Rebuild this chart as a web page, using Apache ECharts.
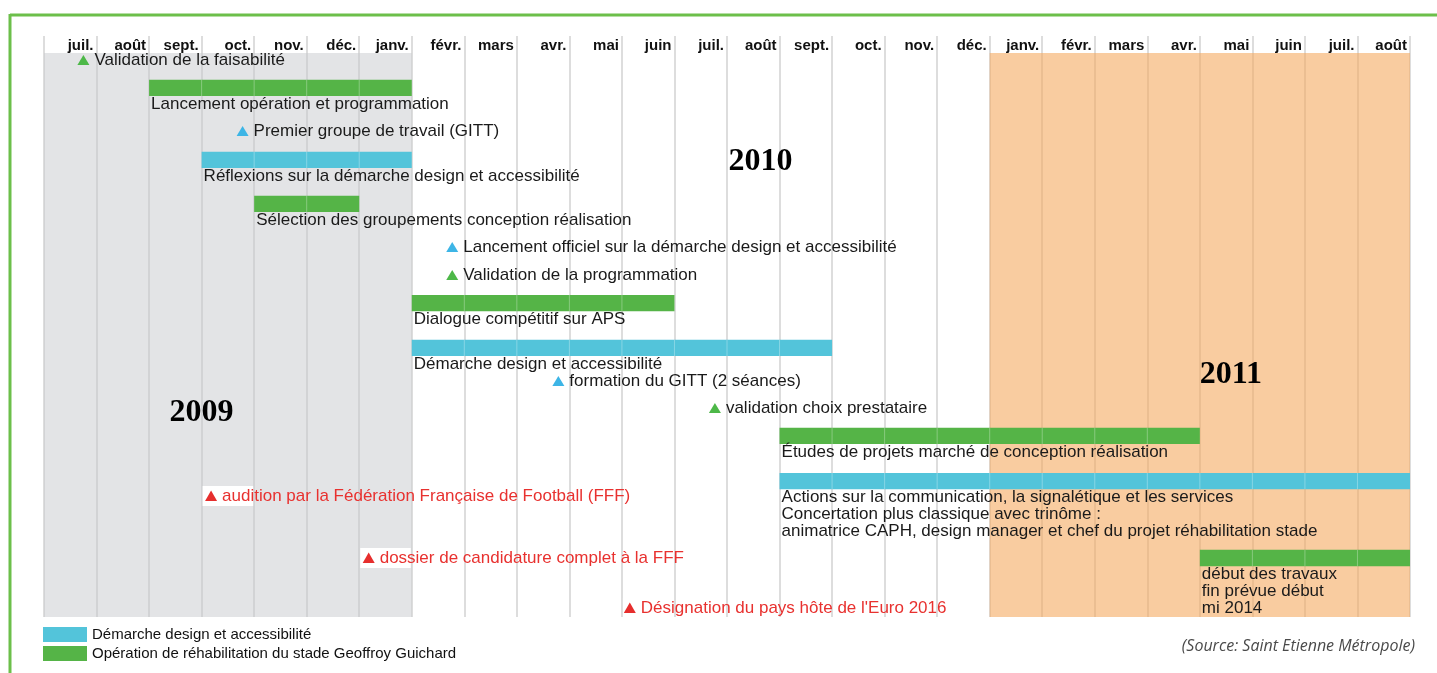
<!DOCTYPE html>
<html>
<head>
<meta charset="utf-8">
<script src="https://cdn.jsdelivr.net/npm/echarts@6/dist/echarts.min.js"></script>
<style>
html, body { margin: 0; padding: 0; background: #fff; }
#main { width: 1437px; height: 673px; }
</style>
</head>
<body>
<div id="main"></div>
<script>
var chartDom = document.getElementById('main');
var myChart = echarts.init(chartDom);
var option;

// mois de juillet 2009 a aout 2011
var months = ['juil.', 'août', 'sept.', 'oct.', 'nov.', 'déc.', 'janv.', 'févr.', 'mars', 'avr.', 'mai', 'juin',
    'juil.', 'août', 'sept.', 'oct.', 'nov.', 'déc.', 'janv.', 'févr.', 'mars', 'avr.', 'mai', 'juin', 'juil.', 'août'];

// barres : debut / fin en mois depuis juillet 2009, ligne
var taskNames = [
    'Lancement opération et programmation',
    'Réflexions sur la démarche design et accessibilité',
    'Sélection des groupements conception réalisation',
    'Dialogue compétitif sur APS',
    'Démarche design et accessibilité',
    'Études de projets marché de conception réalisation',
    'Actions sur la communication, la signalétique et les services\nConcertation plus classique avec trinôme :\nanimatrice CAPH, design manager et chef du projet réhabilitation stade',
    'début des travaux\nfin prévue début\nmi 2014'
];
var taskStart = [2, 3, 4, 7, 7, 14, 14, 22];
var taskEnd = [7, 7, 6, 12, 15, 22, 26, 26];
var taskRow = [1.24, 3.79, 5.35, 8.87, 10.46, 13.58, 15.18, 17.91];
var taskGroup = ['ope', 'dem', 'ope', 'ope', 'dem', 'ope', 'dem', 'ope'];

// jalons
var eventNames = [
    'Validation de la faisabilité',
    'Premier groupe de travail (GITT)',
    'Lancement officiel sur la démarche design et accessibilité',
    'Validation de la programmation',
    'formation du GITT (2 séances)',
    'validation choix prestataire',
    'audition par la Fédération Française de Football (FFF)',
    'dossier de candidature complet à la FFF',
    "Désignation du pays hôte de l'Euro 2016"
];
var eventDate = [0.75, 3.78, 7.77, 7.77, 9.79, 12.77, 3.18, 6.18, 11.15];
var eventRow = [0.25, 2.77, 6.88, 7.87, 11.63, 12.59, 15.71, 17.91, 19.68];
var eventGroup = ['ope', 'dem', 'dem', 'ope', 'dem', 'ope', 'fff', 'fff', 'fff'];

// annees
var years = ['2009', '2010', '2011'];
var yearDate = [3.0, 13.64, 22.59];
var yearRow = [12.77, 3.87, 11.42];

// fonds (2009 gris, 2011 orange)
var periodStart = [0, 18];
var periodEnd = [7, 26];

var names = {
    dem: 'Démarche design et accessibilité',
    ope: 'Opération de réhabilitation du stade Geoffroy Guichard'
};
var barColor = { dem: '#53c4da', ope: '#55b447' };
var triColor = { dem: '#3db5e6', ope: '#4db848', fff: '#e62e2d' };
var txtFont = '17px "Liberation Sans", Arial, sans-serif';

function taskData(g) {
    var out = [];
    for (var i = 0; i < taskNames.length; i++) {
        if (taskGroup[i] === g) {
            out.push({ value: [taskStart[i], taskEnd[i], taskRow[i]], name: taskNames[i] });
        }
    }
    return out;
}

function eventData(g) {
    var out = [];
    for (var i = 0; i < eventNames.length; i++) {
        if (eventGroup[i] === g) {
            out.push({ value: [eventDate[i], eventRow[i]], name: eventNames[i] });
        }
    }
    return out;
}

function barSeries(g) {
    var items = taskData(g);
    return {
        type: 'custom',
        name: names[g],
        itemStyle: { color: barColor[g] },
        encode: { x: [0, 1], y: 2 },
        data: items,
        renderItem: function (params, api) {
            var p0 = api.coord([api.value(0), api.value(2)]);
            var p1 = api.coord([api.value(1), api.value(2)]);
            var h = api.size([0, 0.58])[1];
            var children = [{
                type: 'rect',
                shape: { x: p0[0], y: p0[1] - h / 2, width: p1[0] - p0[0], height: h },
                style: { fill: barColor[g] }
            }];
            for (var m = api.value(0) + 1; m < api.value(1); m++) {
                var x = api.coord([m, 0])[0];
                children.push({
                    type: 'line',
                    shape: { x1: x, y1: p0[1] - h / 2, x2: x, y2: p0[1] + h / 2 },
                    style: { stroke: 'rgba(255,255,255,0.3)', lineWidth: 1 }
                });
            }
            children.push({
                type: 'text',
                x: p0[0] + 2,
                y: p0[1] + h / 2,
                style: {
                    text: items[params.dataIndex].name,
                    fill: '#1a1a1a',
                    font: txtFont,
                    verticalAlign: 'top',
                    lineHeight: 17
                }
            });
            return { type: 'group', children: children };
        }
    };
}

function eventSeries(g) {
    return {
        type: 'scatter',
        name: names[g],
        symbol: 'triangle',
        symbolSize: [12, 10],
        itemStyle: { color: triColor[g], opacity: 1 },
        data: eventData(g),
        label: {
            show: true,
            position: 'right',
            distance: 5,
            formatter: '{b}',
            fontFamily: '"Liberation Sans", Arial, sans-serif',
            fontSize: 17,
            color: '#1a1a1a',
            opacity: 1
        }
    };
}

var fffItems = eventData('fff');

option = {
    backgroundColor: '#fff',
    animation: false,
    grid: { left: 44, right: 27, top: 36, bottom: 56 },
    xAxis: {
        type: 'value',
        position: 'top',
        min: 0,
        max: 26,
        interval: 1,
        axisLine: { show: false },
        axisTick: { show: false },
        splitLine: { show: true, lineStyle: { color: '#d2d2d2', width: 1.5 } },
        axisLabel: {
            inside: true,
            margin: 2,
            align: 'right',
            padding: [0, 3, 0, 0],
            fontFamily: '"Liberation Sans", Arial, sans-serif',
            fontSize: 15,
            fontWeight: 'bold',
            color: '#111',
            formatter: function (v) {
                return v > 0 ? months[v - 1] : '';
            }
        }
    },
    yAxis: {
        type: 'value',
        inverse: true,
        min: -0.6,
        max: 20,
        show: false
    },
    legend: {
        orient: 'vertical',
        left: 43,
        top: 627,
        padding: 0,
        itemWidth: 44,
        itemHeight: 15,
        itemGap: 4,
        selectedMode: false,
        textStyle: { fontFamily: '"Liberation Sans", Arial, sans-serif', fontSize: 15, color: '#111' },
        data: [
            { name: names.dem, icon: 'rect', itemStyle: { color: barColor.dem } },
            { name: names.ope, icon: 'rect', itemStyle: { color: barColor.ope } }
        ]
    },
    graphic: [
        { type: 'line', shape: { x1: 10, y1: 15, x2: 1437, y2: 15 }, style: { stroke: '#6cbf4a', lineWidth: 3 } },
        { type: 'line', shape: { x1: 10, y1: 14, x2: 10, y2: 673 }, style: { stroke: '#6cbf4a', lineWidth: 3 } },
        {
            type: 'text', right: 22, top: 638,
            style: { text: '(Source: Saint Etienne Métropole)', font: 'italic 16px "Open Sans", sans-serif', fill: '#4a4a4a' }
        }
    ],
    series: [
        {
            type: 'line',
            name: 'fond',
            data: [],
            silent: true,
            markArea: {
                silent: true,
                data: [
                    [{ xAxis: periodStart[0], yAxis: 0, itemStyle: { color: 'rgba(200,202,206,0.5)' } }, { xAxis: periodEnd[0], yAxis: 20 }],
                    [{ xAxis: periodStart[1], yAxis: 0, itemStyle: { color: 'rgba(245,170,97,0.6)' } }, { xAxis: periodEnd[1], yAxis: 20 }]
                ]
            }
        },
        {
            type: 'scatter',
            name: 'annees',
            silent: true,
            symbolSize: 0,
            itemStyle: { opacity: 1 },
            data: years.map(function (y, i) { return { value: [yearDate[i], yearRow[i]], name: y }; }),
            label: {
                show: true,
                position: 'inside',
                formatter: '{b}',
                fontFamily: '"Liberation Serif", "Times New Roman", serif',
                fontWeight: 'bold',
                fontSize: 32,
                color: '#000',
                opacity: 1
            }
        },
        barSeries('dem'),
        barSeries('ope'),
        eventSeries('dem'),
        eventSeries('ope'),
        {
            type: 'custom',
            name: 'FFF',
            encode: { x: 0, y: 1 },
            data: fffItems,
            renderItem: function (params, api) {
                var d = api.value(0);
                var r = api.value(1);
                var p = api.coord([d, r]);
                var c0 = api.coord([Math.floor(d), r])[0];
                var c1 = api.coord([Math.floor(d) + 1, r])[0];
                return {
                    type: 'group',
                    children: [
                        { type: 'rect', shape: { x: c0 + 1, y: p[1] - 10, width: c1 - c0 - 2, height: 20 }, style: { fill: '#fff' } },
                        {
                            type: 'polygon',
                            shape: { points: [[p[0], p[1] - 5.5], [p[0] + 6, p[1] + 5], [p[0] - 6, p[1] + 5]] },
                            style: { fill: triColor.fff }
                        },
                        {
                            type: 'text', x: p[0] + 11, y: p[1],
                            style: { text: fffItems[params.dataIndex].name, fill: '#e8312f', font: txtFont, verticalAlign: 'middle' }
                        }
                    ]
                };
            }
        }
    ]
};

option && myChart.setOption(option);
</script>
</body>
</html>
